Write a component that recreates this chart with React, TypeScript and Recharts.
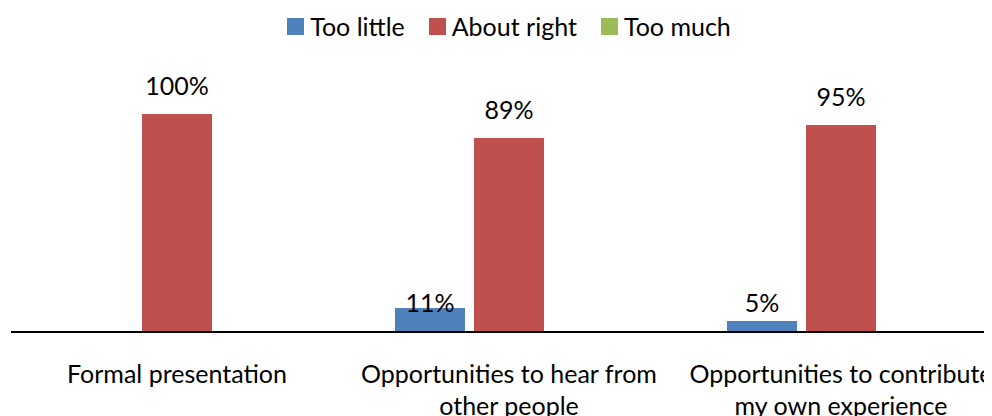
import { BarChart, Bar, XAxis, YAxis, Legend, LabelList } from "recharts";

const categories = [
  "Formal presentation",
  "Opportunities to hear from other people",
  "Opportunities to contribute my own experience",
];
const tickLines = [
  ["Formal presentation"],
  ["Opportunities to hear from", "other people"],
  ["Opportunities to contribute", "my own experience"],
];
const seriesNames = ["Too little", "About right", "Too much"];
const tooLittle = [0, 11, 5];
const aboutRight = [100, 89, 95];
const tooMuch = [0, 0, 0];

const FONT = "Lato, 'Noto Sans', sans-serif";
const FS = 25;

const rows = categories.map((c, i) => ({
  name: c,
  tooLittle: tooLittle[i],
  aboutRight: aboutRight[i],
  tooMuch: tooMuch[i],
}));

function CategoryTick({ x, y, index }: any) {
  const lines = tickLines[index] ?? [];
  return (
    <text x={x} y={y} textAnchor="middle" fontFamily={FONT} fontSize={FS} fill="#000">
      {lines.map((l, i) => (
        <tspan key={i} x={x} dy={i === 0 ? 51 : 32}>
          {l}
        </tspan>
      ))}
    </text>
  );
}

function ValueLabel({ x, y, width, height, value }: any) {
  if (!value) return null;
  // small bars: Excel drops the label down near the axis
  const ty = height < 40 ? y + height - 20 : y - 19;
  return (
    <text x={x + width / 2} y={ty} textAnchor="middle" fontFamily={FONT} fontSize={FS} fill="#000">
      {value}%
    </text>
  );
}

function LegendContent({ payload }: any) {
  const items = [...(payload ?? [])].sort(
    (a: any, b: any) => seriesNames.indexOf(a.value) - seriesNames.indexOf(b.value)
  );
  return (
    <div style={{ display: "flex", justifyContent: "center", fontFamily: FONT, fontSize: FS, color: "#000" }}>
      {items.map((p: any) => (
        <div key={p.value} style={{ display: "flex", alignItems: "center", margin: "0 12px" }}>
          <span style={{ width: 17, height: 17, background: p.color, display: "inline-block", marginRight: 6 }} />
          <span>{p.value}</span>
        </div>
      ))}
    </div>
  );
}

export default function App() {
  return (
    <div style={{ width: 984, height: 408, overflow: "hidden" }}>
      <BarChart
        width={999}
        height={450}
        data={rows}
        margin={{ top: 106, right: 0, left: 3, bottom: 0 }}
        barSize={70}
        barGap={9}
      >
        <XAxis
          dataKey="name"
          height={126}
          tick={<CategoryTick />}
          tickLine={false}
          tickSize={0}
          tickMargin={0}
          interval={0}
          axisLine={{ stroke: "#000", strokeWidth: 2 }}
        />
        <YAxis hide domain={[0, 100]} />
        <Legend
          layout="horizontal"
          verticalAlign="middle"
          align="center"
          wrapperStyle={{ top: 3 }}
          content={<LegendContent />}
        />
        <Bar dataKey="tooLittle" name={seriesNames[0]} fill="#4F81BD" isAnimationActive={false}>
          <LabelList dataKey="tooLittle" content={<ValueLabel />} />
        </Bar>
        <Bar dataKey="aboutRight" name={seriesNames[1]} fill="#C0504D" isAnimationActive={false}>
          <LabelList dataKey="aboutRight" content={<ValueLabel />} />
        </Bar>
        <Bar dataKey="tooMuch" name={seriesNames[2]} fill="#9BBB59" isAnimationActive={false}>
          <LabelList dataKey="tooMuch" content={<ValueLabel />} />
        </Bar>
      </BarChart>
    </div>
  );
}
